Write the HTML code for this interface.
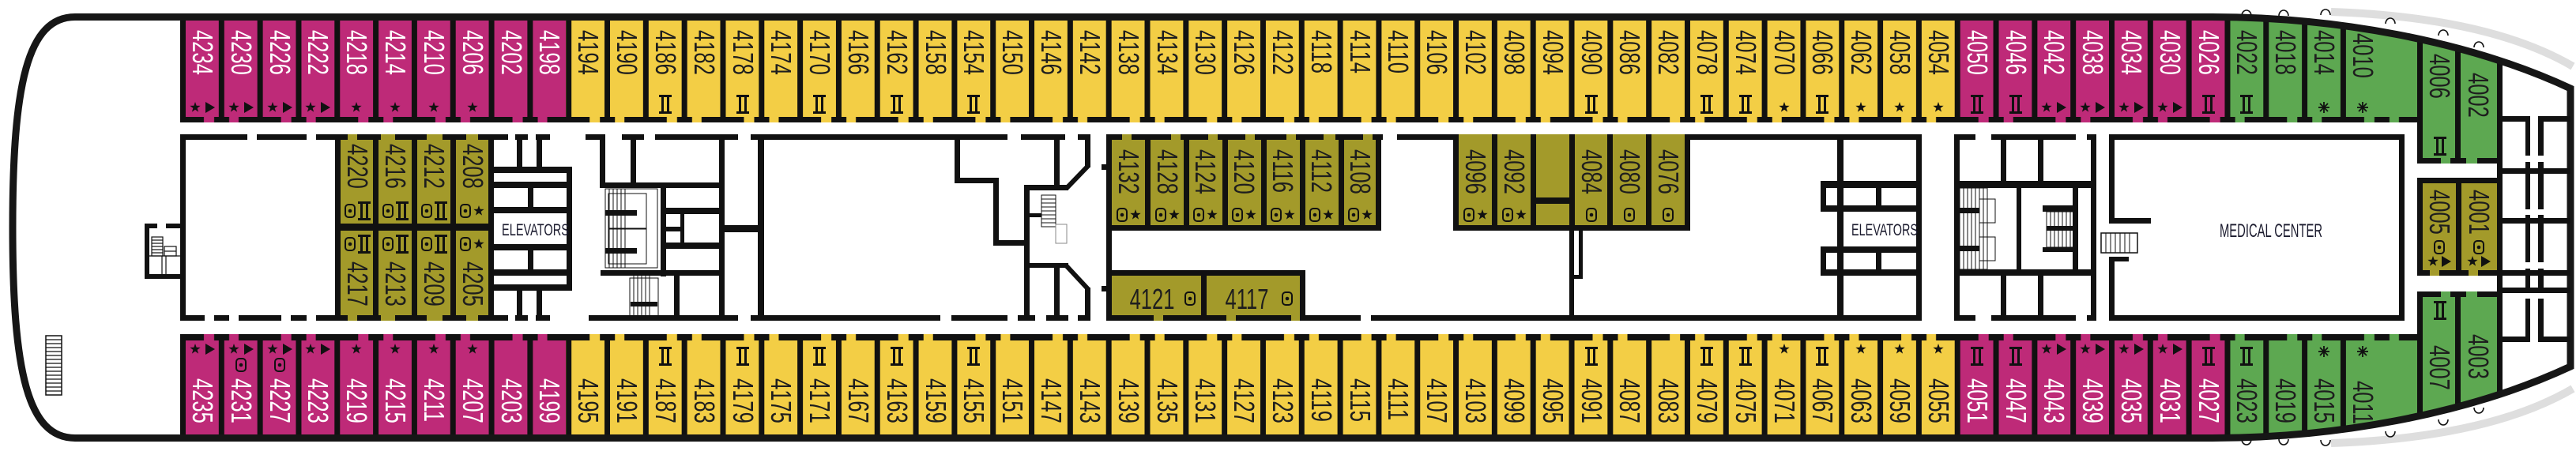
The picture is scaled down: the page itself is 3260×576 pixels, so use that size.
<!DOCTYPE html>
<html><head><meta charset="utf-8"><style>
html,body{margin:0;padding:0;background:#fff}
svg{display:block}
.n{font-family:"Liberation Sans",sans-serif;font-size:36px;dominant-baseline:central}
.w{fill:#fff}.d{fill:#1e1e1e}
.lab{font-family:"Liberation Sans",sans-serif;fill:#1b1b2e}
</style></head><body>
<svg width="3260" height="576" viewBox="0 0 3260 576" xmlns="http://www.w3.org/2000/svg">
<defs>
<clipPath id="hc"><path d="M95,21.5 L2800,21.5 C2950,21.5 3120,50 3253,112 L3253,464 C3120,526 2950,554.5 2800,554.5 L95,554.5 C35,554.5 16,470 16,288 C16,106 35,21.5 95,21.5 Z"/></clipPath>
<pattern id="vw" x="228" y="0" width="48.82" height="576" patternUnits="userSpaceOnUse"><rect width="7" height="576" fill="#111"/></pattern>
<pattern id="dw" x="228" y="0" width="97.64" height="576" patternUnits="userSpaceOnUse"><rect x="0" width="30" height="576" fill="#111"/><rect x="43" width="19" height="576" fill="#111"/><rect x="74" width="23.64" height="576" fill="#111"/></pattern>
<g id="st"><polygon points="0,-7 1.65,-2.27 6.66,-2.16 2.66,0.87 4.11,5.66 0,2.8 -4.11,5.66 -2.66,0.87 -6.66,-2.16 -1.65,-2.27" fill="#111"/></g>
<g id="tr"><polygon points="-5,-7 7,0 -5,7" fill="#111"/></g>
<g id="ii" fill="#111"><rect x="-8" y="-12" width="16" height="3"/><rect x="-8" y="9" width="16" height="3"/><rect x="-5" y="-12" width="3" height="24"/><rect x="2" y="-12" width="3" height="24"/></g>
<g id="dt"><rect x="-6" y="-8" width="12" height="16" rx="4" fill="none" stroke="#111" stroke-width="2"/><circle r="2.3" fill="#111"/></g>
<g id="as" stroke="#111" stroke-width="1.8"><line x1="0" y1="-7" x2="0" y2="7"/><line x1="-7" y1="0" x2="7" y2="0"/><line x1="-5" y1="-5" x2="5" y2="5"/><line x1="-5" y1="5" x2="5" y2="-5"/></g>
</defs>

<!-- grey rails -->
<path d="M2950,15 Q3150,22 3256,84" fill="none" stroke="#dedede" stroke-width="10"/>
<path d="M2950,561 Q3150,554 3256,492" fill="none" stroke="#dedede" stroke-width="10"/>
<!-- bumps -->
<g fill="#fff" stroke="#111" stroke-width="1.6">
<path d="M2837,20 a6,7 0 0 1 12,0"/><path d="M2884,20 a6,7 0 0 1 12,0"/><path d="M2937,19 a6,7 0 0 1 12,0"/><path d="M3019,30 a6,7 0 0 1 12,0"/><path d="M3086,45 a6,7 0 0 1 12,0"/><path d="M3131,60 a6,7 0 0 1 12,0"/>
<path d="M2837,556 a6,7 0 0 0 12,0"/><path d="M2884,556 a6,7 0 0 0 12,0"/><path d="M2937,557 a6,7 0 0 0 12,0"/><path d="M3019,546 a6,7 0 0 0 12,0"/><path d="M3086,531 a6,7 0 0 0 12,0"/><path d="M3131,516 a6,7 0 0 0 12,0"/>
</g>

<g clip-path="url(#hc)">
<!-- top row colors -->
<rect x="228" y="20" width="488" height="135" fill="#BE2A78"/>
<rect x="716" y="20" width="1758" height="135" fill="#F3CE45"/>
<rect x="2474" y="20" width="342" height="135" fill="#BE2A78"/>
<rect x="2816" y="20" width="350" height="135" fill="#5DA851"/>
<rect x="3059" y="20" width="107" height="187" fill="#5DA851"/>
<!-- bottom row colors -->
<rect x="228" y="423" width="488" height="135" fill="#BE2A78"/>
<rect x="716" y="423" width="1758" height="135" fill="#F3CE45"/>
<rect x="2474" y="423" width="342" height="135" fill="#BE2A78"/>
<rect x="2816" y="423" width="350" height="135" fill="#5DA851"/>
<rect x="3059" y="369" width="107" height="190" fill="#5DA851"/>
<!-- walls -->
<rect x="228" y="20" width="2741" height="135" fill="url(#vw)"/>
<rect x="228" y="148" width="2831" height="7" fill="url(#dw)"/>
<rect x="228" y="423" width="2741" height="135" fill="url(#vw)"/>
<rect x="228" y="423" width="2831" height="8" fill="url(#dw)"/>
<rect x="3059" y="20" width="7" height="187" fill="#111"/>
<rect x="3107" y="20" width="7" height="187" fill="#111"/>
<rect x="3160" y="20" width="7" height="187" fill="#111"/>
<rect x="3059" y="200" width="30" height="7" fill="#111"/><rect x="3101" y="200" width="20" height="7" fill="#111"/><rect x="3135" y="200" width="32" height="7" fill="#111"/>
<rect x="3059" y="369" width="7" height="190" fill="#111"/>
<rect x="3107" y="369" width="7" height="190" fill="#111"/>
<rect x="3160" y="369" width="7" height="190" fill="#111"/>
<rect x="3059" y="369" width="30" height="7" fill="#111"/><rect x="3101" y="369" width="20" height="7" fill="#111"/><rect x="3135" y="369" width="32" height="7" fill="#111"/>
</g>

<!-- hull -->
<path d="M95,21.5 L2800,21.5 C2950,21.5 3120,50 3253,112 L3253,464 C3120,526 2950,554.5 2800,554.5 L95,554.5 C35,554.5 16,470 16,288 C16,106 35,21.5 95,21.5 Z" fill="none" stroke="#161616" stroke-width="9"/>

<!-- top labels -->
<g class="n w">
<text transform="translate(256,38) rotate(90) scale(0.71,1)">4234</text>
<text transform="translate(305,38) rotate(90) scale(0.71,1)">4230</text>
<text transform="translate(354,38) rotate(90) scale(0.71,1)">4226</text>
<text transform="translate(402,38) rotate(90) scale(0.71,1)">4222</text>
<text transform="translate(451,38) rotate(90) scale(0.71,1)">4218</text>
<text transform="translate(500,38) rotate(90) scale(0.71,1)">4214</text>
<text transform="translate(549,38) rotate(90) scale(0.71,1)">4210</text>
<text transform="translate(598,38) rotate(90) scale(0.71,1)">4206</text>
<text transform="translate(647,38) rotate(90) scale(0.71,1)">4202</text>
<text transform="translate(695,38) rotate(90) scale(0.71,1)">4198</text>
<text transform="translate(2502,38) rotate(90) scale(0.71,1)">4050</text>
<text transform="translate(2551,38) rotate(90) scale(0.71,1)">4046</text>
<text transform="translate(2599,38) rotate(90) scale(0.71,1)">4042</text>
<text transform="translate(2648,38) rotate(90) scale(0.71,1)">4038</text>
<text transform="translate(2697,38) rotate(90) scale(0.71,1)">4034</text>
<text transform="translate(2746,38) rotate(90) scale(0.71,1)">4030</text>
<text transform="translate(2795,38) rotate(90) scale(0.71,1)">4026</text>
</g>
<g class="n d">
<text transform="translate(744,38) rotate(90) scale(0.71,1)">4194</text>
<text transform="translate(793,38) rotate(90) scale(0.71,1)">4190</text>
<text transform="translate(842,38) rotate(90) scale(0.71,1)">4186</text>
<text transform="translate(891,38) rotate(90) scale(0.71,1)">4182</text>
<text transform="translate(940,38) rotate(90) scale(0.71,1)">4178</text>
<text transform="translate(988,38) rotate(90) scale(0.71,1)">4174</text>
<text transform="translate(1037,38) rotate(90) scale(0.71,1)">4170</text>
<text transform="translate(1086,38) rotate(90) scale(0.71,1)">4166</text>
<text transform="translate(1135,38) rotate(90) scale(0.71,1)">4162</text>
<text transform="translate(1184,38) rotate(90) scale(0.71,1)">4158</text>
<text transform="translate(1232,38) rotate(90) scale(0.71,1)">4154</text>
<text transform="translate(1281,38) rotate(90) scale(0.71,1)">4150</text>
<text transform="translate(1330,38) rotate(90) scale(0.71,1)">4146</text>
<text transform="translate(1379,38) rotate(90) scale(0.71,1)">4142</text>
<text transform="translate(1428,38) rotate(90) scale(0.71,1)">4138</text>
<text transform="translate(1477,38) rotate(90) scale(0.71,1)">4134</text>
<text transform="translate(1525,38) rotate(90) scale(0.71,1)">4130</text>
<text transform="translate(1574,38) rotate(90) scale(0.71,1)">4126</text>
<text transform="translate(1623,38) rotate(90) scale(0.71,1)">4122</text>
<text transform="translate(1672,38) rotate(90) scale(0.71,1)">4118</text>
<text transform="translate(1721,38) rotate(90) scale(0.71,1)">4114</text>
<text transform="translate(1769,38) rotate(90) scale(0.71,1)">4110</text>
<text transform="translate(1818,38) rotate(90) scale(0.71,1)">4106</text>
<text transform="translate(1867,38) rotate(90) scale(0.71,1)">4102</text>
<text transform="translate(1916,38) rotate(90) scale(0.71,1)">4098</text>
<text transform="translate(1965,38) rotate(90) scale(0.71,1)">4094</text>
<text transform="translate(2014,38) rotate(90) scale(0.71,1)">4090</text>
<text transform="translate(2062,38) rotate(90) scale(0.71,1)">4086</text>
<text transform="translate(2111,38) rotate(90) scale(0.71,1)">4082</text>
<text transform="translate(2160,38) rotate(90) scale(0.71,1)">4078</text>
<text transform="translate(2209,38) rotate(90) scale(0.71,1)">4074</text>
<text transform="translate(2258,38) rotate(90) scale(0.71,1)">4070</text>
<text transform="translate(2306,38) rotate(90) scale(0.71,1)">4066</text>
<text transform="translate(2355,38) rotate(90) scale(0.71,1)">4062</text>
<text transform="translate(2404,38) rotate(90) scale(0.71,1)">4058</text>
<text transform="translate(2453,38) rotate(90) scale(0.71,1)">4054</text>
<text transform="translate(2843,38) rotate(90) scale(0.71,1)">4022</text>
<text transform="translate(2892,38) rotate(90) scale(0.71,1)">4018</text>
<text transform="translate(2941,38) rotate(90) scale(0.71,1)">4014</text>
<text transform="translate(2990,42) rotate(90) scale(0.71,1)">4010</text>
<text transform="translate(3087,68) rotate(90) scale(0.71,1)">4006</text>
<text transform="translate(3136,92) rotate(90) scale(0.71,1)">4002</text>
</g>

<!-- bottom labels -->
<g class="n w">
<text transform="translate(256,479) rotate(90) scale(0.71,1)">4235</text>
<text transform="translate(305,479) rotate(90) scale(0.71,1)">4231</text>
<text transform="translate(354,479) rotate(90) scale(0.71,1)">4227</text>
<text transform="translate(402,479) rotate(90) scale(0.71,1)">4223</text>
<text transform="translate(451,479) rotate(90) scale(0.71,1)">4219</text>
<text transform="translate(500,479) rotate(90) scale(0.71,1)">4215</text>
<text transform="translate(549,479) rotate(90) scale(0.71,1)">4211</text>
<text transform="translate(598,479) rotate(90) scale(0.71,1)">4207</text>
<text transform="translate(647,479) rotate(90) scale(0.71,1)">4203</text>
<text transform="translate(695,479) rotate(90) scale(0.71,1)">4199</text>
<text transform="translate(2502,479) rotate(90) scale(0.71,1)">4051</text>
<text transform="translate(2551,479) rotate(90) scale(0.71,1)">4047</text>
<text transform="translate(2599,479) rotate(90) scale(0.71,1)">4043</text>
<text transform="translate(2648,479) rotate(90) scale(0.71,1)">4039</text>
<text transform="translate(2697,479) rotate(90) scale(0.71,1)">4035</text>
<text transform="translate(2746,479) rotate(90) scale(0.71,1)">4031</text>
<text transform="translate(2795,479) rotate(90) scale(0.71,1)">4027</text>
</g>
<g class="n d">
<text transform="translate(744,479) rotate(90) scale(0.71,1)">4195</text>
<text transform="translate(793,479) rotate(90) scale(0.71,1)">4191</text>
<text transform="translate(842,479) rotate(90) scale(0.71,1)">4187</text>
<text transform="translate(891,479) rotate(90) scale(0.71,1)">4183</text>
<text transform="translate(940,479) rotate(90) scale(0.71,1)">4179</text>
<text transform="translate(988,479) rotate(90) scale(0.71,1)">4175</text>
<text transform="translate(1037,479) rotate(90) scale(0.71,1)">4171</text>
<text transform="translate(1086,479) rotate(90) scale(0.71,1)">4167</text>
<text transform="translate(1135,479) rotate(90) scale(0.71,1)">4163</text>
<text transform="translate(1184,479) rotate(90) scale(0.71,1)">4159</text>
<text transform="translate(1232,479) rotate(90) scale(0.71,1)">4155</text>
<text transform="translate(1281,479) rotate(90) scale(0.71,1)">4151</text>
<text transform="translate(1330,479) rotate(90) scale(0.71,1)">4147</text>
<text transform="translate(1379,479) rotate(90) scale(0.71,1)">4143</text>
<text transform="translate(1428,479) rotate(90) scale(0.71,1)">4139</text>
<text transform="translate(1477,479) rotate(90) scale(0.71,1)">4135</text>
<text transform="translate(1525,479) rotate(90) scale(0.71,1)">4131</text>
<text transform="translate(1574,479) rotate(90) scale(0.71,1)">4127</text>
<text transform="translate(1623,479) rotate(90) scale(0.71,1)">4123</text>
<text transform="translate(1672,479) rotate(90) scale(0.71,1)">4119</text>
<text transform="translate(1721,479) rotate(90) scale(0.71,1)">4115</text>
<text transform="translate(1769,479) rotate(90) scale(0.71,1)">4111</text>
<text transform="translate(1818,479) rotate(90) scale(0.71,1)">4107</text>
<text transform="translate(1867,479) rotate(90) scale(0.71,1)">4103</text>
<text transform="translate(1916,479) rotate(90) scale(0.71,1)">4099</text>
<text transform="translate(1965,479) rotate(90) scale(0.71,1)">4095</text>
<text transform="translate(2014,479) rotate(90) scale(0.71,1)">4091</text>
<text transform="translate(2062,479) rotate(90) scale(0.71,1)">4087</text>
<text transform="translate(2111,479) rotate(90) scale(0.71,1)">4083</text>
<text transform="translate(2160,479) rotate(90) scale(0.71,1)">4079</text>
<text transform="translate(2209,479) rotate(90) scale(0.71,1)">4075</text>
<text transform="translate(2258,479) rotate(90) scale(0.71,1)">4071</text>
<text transform="translate(2306,479) rotate(90) scale(0.71,1)">4067</text>
<text transform="translate(2355,479) rotate(90) scale(0.71,1)">4063</text>
<text transform="translate(2404,479) rotate(90) scale(0.71,1)">4059</text>
<text transform="translate(2453,479) rotate(90) scale(0.71,1)">4055</text>
<text transform="translate(2843,479) rotate(90) scale(0.71,1)">4023</text>
<text transform="translate(2892,479) rotate(90) scale(0.71,1)">4019</text>
<text transform="translate(2941,479) rotate(90) scale(0.71,1)">4015</text>
<text transform="translate(2990,482) rotate(90) scale(0.71,1)">4011</text>
<text transform="translate(3087,437) rotate(90) scale(0.71,1)">4007</text>
<text transform="translate(3136,423) rotate(90) scale(0.71,1)">4003</text>
</g>

<!-- top icons -->
<use href="#st" x="247" y="136"/><use href="#tr" x="265" y="136"/>
<use href="#st" x="296" y="136"/><use href="#tr" x="314" y="136"/>
<use href="#st" x="345" y="136"/><use href="#tr" x="363" y="136"/>
<use href="#st" x="393" y="136"/><use href="#tr" x="411" y="136"/>
<use href="#st" x="451" y="136"/><use href="#st" x="500" y="136"/><use href="#st" x="549" y="136"/><use href="#st" x="598" y="136"/>
<use href="#ii" x="842" y="132"/><use href="#ii" x="940" y="132"/><use href="#ii" x="1037" y="132"/><use href="#ii" x="1135" y="132"/><use href="#ii" x="1232" y="132"/>
<use href="#ii" x="2014" y="132"/><use href="#ii" x="2160" y="132"/><use href="#ii" x="2209" y="132"/><use href="#ii" x="2306" y="132"/><use href="#ii" x="2502" y="132"/><use href="#ii" x="2551" y="132"/><use href="#ii" x="2795" y="132"/><use href="#ii" x="2843" y="132"/>
<use href="#st" x="2258" y="136"/><use href="#st" x="2355" y="136"/><use href="#st" x="2404" y="136"/><use href="#st" x="2453" y="136"/>
<use href="#st" x="2590" y="136"/><use href="#tr" x="2608" y="136"/>
<use href="#st" x="2639" y="136"/><use href="#tr" x="2657" y="136"/>
<use href="#st" x="2688" y="136"/><use href="#tr" x="2706" y="136"/>
<use href="#st" x="2737" y="136"/><use href="#tr" x="2755" y="136"/>
<use href="#as" x="2941" y="136"/><use href="#as" x="2990" y="136"/>
<use href="#ii" x="3088" y="185"/>
<!-- bottom icons -->
<use href="#st" x="247" y="442"/><use href="#tr" x="265" y="442"/>
<use href="#st" x="296" y="442"/><use href="#tr" x="314" y="442"/><use href="#dt" x="305" y="462"/>
<use href="#st" x="345" y="442"/><use href="#tr" x="363" y="442"/><use href="#dt" x="354" y="462"/>
<use href="#st" x="393" y="442"/><use href="#tr" x="411" y="442"/>
<use href="#st" x="451" y="442"/><use href="#st" x="500" y="442"/><use href="#st" x="549" y="442"/><use href="#st" x="598" y="442"/>
<use href="#ii" x="842" y="451"/><use href="#ii" x="940" y="451"/><use href="#ii" x="1037" y="451"/><use href="#ii" x="1135" y="451"/><use href="#ii" x="1232" y="451"/>
<use href="#ii" x="2014" y="451"/><use href="#ii" x="2160" y="451"/><use href="#ii" x="2209" y="451"/><use href="#ii" x="2306" y="451"/><use href="#ii" x="2502" y="451"/><use href="#ii" x="2551" y="451"/><use href="#ii" x="2795" y="451"/><use href="#ii" x="2843" y="451"/>
<use href="#st" x="2258" y="442"/><use href="#st" x="2355" y="442"/><use href="#st" x="2404" y="442"/><use href="#st" x="2453" y="442"/>
<use href="#st" x="2590" y="442"/><use href="#tr" x="2608" y="442"/>
<use href="#st" x="2639" y="442"/><use href="#tr" x="2657" y="442"/>
<use href="#st" x="2688" y="442"/><use href="#tr" x="2706" y="442"/>
<use href="#st" x="2737" y="442"/><use href="#tr" x="2755" y="442"/>
<use href="#as" x="2941" y="445"/><use href="#as" x="2990" y="445"/>
<use href="#ii" x="3088" y="393"/>

<!-- ===== middle block ===== -->
<g fill="#111">
<!-- stern small stair -->
<rect x="183" y="283" width="6" height="70"/><rect x="183" y="283" width="16" height="6"/><rect x="183" y="347" width="46" height="6"/><rect x="210" y="283" width="19" height="6"/>
</g>
<g fill="none" stroke="#111" stroke-width="1.2">
<rect x="192" y="300" width="14" height="24"/><line x1="192" y1="304" x2="206" y2="304"/><line x1="192" y1="308" x2="206" y2="308"/><line x1="192" y1="312" x2="206" y2="312"/><line x1="192" y1="316" x2="206" y2="316"/><line x1="192" y1="320" x2="206" y2="320"/>
<rect x="208" y="312" width="15" height="12"/><line x1="208" y1="318" x2="223" y2="318"/>
<line x1="189" y1="324" x2="229" y2="324"/><line x1="205" y1="324" x2="205" y2="347"/><line x1="210" y1="324" x2="210" y2="347"/>
<!-- gangway -->
<rect x="58" y="425" width="20" height="75" stroke-width="1.5"/>
</g>
<g stroke="#111" stroke-width="1.2">
<line x1="58" y1="430" x2="78" y2="430"/><line x1="58" y1="435" x2="78" y2="435"/><line x1="58" y1="440" x2="78" y2="440"/><line x1="58" y1="445" x2="78" y2="445"/><line x1="58" y1="450" x2="78" y2="450"/><line x1="58" y1="455" x2="78" y2="455"/><line x1="58" y1="460" x2="78" y2="460"/><line x1="58" y1="465" x2="78" y2="465"/><line x1="58" y1="470" x2="78" y2="470"/><line x1="58" y1="475" x2="78" y2="475"/><line x1="58" y1="480" x2="78" y2="480"/><line x1="58" y1="485" x2="78" y2="485"/><line x1="58" y1="490" x2="78" y2="490"/><line x1="58" y1="495" x2="78" y2="495"/>
</g>

<!-- olive left block -->
<rect x="424" y="170" width="194" height="236" fill="#A39A2A"/>
<g fill="#111">
<!-- room A -->
<rect x="228" y="170" width="7" height="236"/>
<rect x="228" y="170" width="85" height="7"/><rect x="325" y="170" width="63" height="7"/><rect x="400" y="170" width="40" height="7"/>
<rect x="228" y="399" width="31" height="7"/><rect x="271" y="399" width="19" height="7"/><rect x="302" y="399" width="54" height="7"/><rect x="368" y="399" width="20" height="7"/><rect x="400" y="399" width="40" height="7"/>
<!-- olive cabins walls -->
<rect x="424" y="170" width="7" height="236"/><rect x="472" y="170" width="7" height="236"/><rect x="521" y="170" width="7" height="236"/><rect x="570" y="170" width="7" height="236"/><rect x="618" y="170" width="7" height="236"/>
<rect x="452" y="170" width="30" height="7"/><rect x="500" y="170" width="40" height="7"/><rect x="560" y="170" width="30" height="7"/><rect x="605" y="170" width="20" height="7"/>
<rect x="452" y="399" width="30" height="7"/><rect x="500" y="399" width="40" height="7"/><rect x="560" y="399" width="30" height="7"/><rect x="605" y="399" width="20" height="7"/>
<rect x="424" y="283" width="201" height="9"/>
<!-- elevators 1 -->
<rect x="625" y="170" width="18" height="7"/><rect x="652" y="170" width="16" height="7"/><rect x="678" y="170" width="18" height="7"/>
<rect x="654" y="170" width="7" height="44"/><rect x="679" y="170" width="7" height="44"/>
<rect x="618" y="211" width="106" height="8"/><rect x="618" y="230" width="106" height="8"/><rect x="618" y="262" width="106" height="8"/>
<rect x="668" y="238" width="7" height="26"/><rect x="717" y="211" width="7" height="157"/>
<rect x="618" y="309" width="106" height="8"/><rect x="618" y="341" width="106" height="8"/><rect x="618" y="360" width="106" height="8"/>
<rect x="668" y="317" width="7" height="26"/>
<rect x="654" y="366" width="7" height="40"/><rect x="679" y="366" width="7" height="40"/>
<rect x="625" y="399" width="18" height="7"/><rect x="652" y="399" width="16" height="7"/><rect x="678" y="399" width="18" height="7"/>
<!-- stairs 1 -->
<rect x="741" y="170" width="24" height="7"/><rect x="787" y="170" width="28" height="7"/><rect x="829" y="170" width="105" height="7"/>
<rect x="759" y="170" width="7" height="68"/><rect x="798" y="170" width="7" height="62"/><rect x="910" y="170" width="7" height="236"/>
<rect x="759" y="231" width="158" height="7"/>
<rect x="836" y="238" width="7" height="112"/><rect x="861" y="265" width="5" height="50"/>
<rect x="843" y="263" width="74" height="8"/><rect x="843" y="307" width="74" height="8"/><rect x="843" y="287" width="23" height="6"/>
<rect x="760" y="342" width="157" height="7"/>
<rect x="766" y="266" width="40" height="7"/><rect x="766" y="314" width="40" height="7"/><rect x="798" y="382" width="34" height="6"/>
<rect x="853" y="349" width="7" height="57"/>
<rect x="745" y="399" width="189" height="7"/>
<rect x="910" y="285" width="52" height="9"/>
<!-- big room 1 -->
<rect x="959" y="170" width="8" height="236"/>
<rect x="950" y="170" width="325" height="7"/>
<rect x="950" y="399" width="240" height="7"/><rect x="1204" y="399" width="71" height="7"/><rect x="1288" y="399" width="22" height="7"/><rect x="1324" y="399" width="28" height="7"/><rect x="1364" y="399" width="16" height="7"/>
<rect x="1208" y="170" width="7" height="62"/><rect x="1208" y="225" width="56" height="7"/><rect x="1257" y="225" width="7" height="86"/><rect x="1257" y="304" width="45" height="7"/>
<rect x="1296" y="236" width="7" height="170"/><rect x="1334" y="170" width="7" height="68"/><rect x="1334" y="338" width="7" height="68"/>
<rect x="1292" y="170" width="56" height="7"/><rect x="1364" y="170" width="16" height="7"/>
<rect x="1296" y="234" width="56" height="7"/><rect x="1296" y="333" width="56" height="6"/><rect x="1296" y="270" width="22" height="5"/>
<rect x="1373" y="170" width="7" height="42"/><rect x="1373" y="364" width="7" height="42"/>
<rect x="1394" y="208" width="7" height="7"/><rect x="1394" y="362" width="7" height="7"/>
</g>
<g stroke="#111" stroke-width="6"><line x1="1350" y1="238" x2="1377" y2="210"/><line x1="1350" y1="337" x2="1377" y2="366"/></g>
<g fill="none" stroke="#111" stroke-width="1">
<rect x="766" y="239" width="66" height="100"/><rect x="770" y="245" width="48" height="44"/><rect x="770" y="290" width="48" height="44"/>
<line x1="771" y1="239" x2="771" y2="339"/><line x1="776" y1="239" x2="776" y2="339"/><line x1="781" y1="239" x2="781" y2="339"/><line x1="786" y1="239" x2="786" y2="339"/><line x1="791" y1="239" x2="791" y2="339"/>
<rect x="797" y="352" width="36" height="48"/><line x1="802" y1="349" x2="802" y2="404"/><line x1="807" y1="349" x2="807" y2="404"/><line x1="812" y1="349" x2="812" y2="404"/><line x1="817" y1="349" x2="817" y2="404"/><line x1="822" y1="349" x2="822" y2="404"/>
<rect x="1318" y="247" width="18" height="40"/><line x1="1318" y1="252" x2="1336" y2="252"/><line x1="1318" y1="257" x2="1336" y2="257"/><line x1="1318" y1="262" x2="1336" y2="262"/><line x1="1318" y1="267" x2="1336" y2="267"/><line x1="1318" y1="272" x2="1336" y2="272"/><line x1="1318" y1="277" x2="1336" y2="277"/><line x1="1318" y1="282" x2="1336" y2="282"/>
<rect x="1336" y="284" width="14" height="24" stroke="#888"/>
</g>

<!-- olive 4132-4108 -->
<rect x="1400" y="170" width="348" height="122" fill="#A39A2A"/>
<rect x="1400" y="342" width="252" height="64" fill="#A39A2A"/>
<g fill="#111">
<rect x="1400" y="170" width="7" height="236"/>
<rect x="1449" y="170" width="7" height="122"/><rect x="1498" y="170" width="7" height="122"/><rect x="1547" y="170" width="7" height="122"/><rect x="1596" y="170" width="7" height="122"/><rect x="1645" y="170" width="7" height="122"/><rect x="1694" y="170" width="7" height="122"/><rect x="1741" y="170" width="7" height="122"/>
<rect x="1400" y="170" width="20" height="7"/><rect x="1432" y="170" width="50" height="7"/><rect x="1494" y="170" width="35" height="7"/><rect x="1541" y="170" width="35" height="7"/><rect x="1588" y="170" width="40" height="7"/><rect x="1640" y="170" width="35" height="7"/><rect x="1690" y="170" width="35" height="7"/><rect x="1737" y="170" width="13" height="7"/>
<rect x="1400" y="285" width="348" height="7"/>
<rect x="1400" y="342" width="252" height="7"/><rect x="1520" y="342" width="7" height="64"/><rect x="1645" y="342" width="7" height="64"/>
<rect x="1400" y="399" width="60" height="7"/><rect x="1472" y="399" width="80" height="7"/><rect x="1564" y="399" width="70" height="7"/>
<rect x="1646" y="399" width="76" height="7"/><rect x="1735" y="399" width="697" height="7"/>
<rect x="1768" y="170" width="664" height="7"/>
<!-- olive 4096 group -->
</g>
<rect x="1839" y="170" width="300" height="122" fill="#A39A2A"/>
<g fill="#111">
<rect x="1839" y="170" width="7" height="122"/><rect x="1888" y="170" width="7" height="122"/><rect x="1937" y="170" width="7" height="122"/><rect x="1986" y="170" width="7" height="122"/><rect x="2034" y="170" width="7" height="122"/><rect x="2083" y="170" width="7" height="122"/><rect x="2132" y="170" width="7" height="122"/>
<rect x="1839" y="285" width="300" height="7"/><rect x="1944" y="250" width="42" height="8"/>
<rect x="1986" y="292" width="6" height="114"/><rect x="1998" y="292" width="5" height="61"/><rect x="1986" y="348" width="17" height="5"/>
<!-- elevators 2 -->
<rect x="2325" y="170" width="8" height="236"/><rect x="2425" y="170" width="7" height="236"/>
<rect x="2304" y="229" width="128" height="9"/><rect x="2304" y="260" width="128" height="8"/><rect x="2304" y="229" width="7" height="39"/><rect x="2374" y="229" width="7" height="39"/>
<rect x="2304" y="312" width="128" height="8"/><rect x="2304" y="341" width="128" height="8"/><rect x="2304" y="312" width="7" height="37"/><rect x="2374" y="312" width="7" height="37"/>
<!-- stairs 2 -->
<rect x="2473" y="170" width="27" height="7"/><rect x="2520" y="170" width="107" height="7"/><rect x="2641" y="170" width="12" height="7"/>
<rect x="2473" y="399" width="27" height="7"/><rect x="2520" y="399" width="107" height="7"/><rect x="2641" y="399" width="12" height="7"/>
<rect x="2473" y="170" width="7" height="236"/><rect x="2646" y="170" width="7" height="236"/>
<rect x="2532" y="170" width="7" height="62"/><rect x="2579" y="170" width="7" height="62"/>
<rect x="2532" y="345" width="7" height="61"/><rect x="2579" y="345" width="7" height="61"/>
<rect x="2473" y="229" width="180" height="9"/><rect x="2473" y="341" width="180" height="8"/>
<rect x="2552" y="238" width="6" height="103"/><rect x="2623" y="238" width="7" height="103"/>
<rect x="2585" y="260" width="45" height="8"/><rect x="2585" y="313" width="45" height="6"/>
<rect x="2480" y="263" width="25" height="7"/><rect x="2480" y="311" width="25" height="7"/><rect x="2590" y="286" width="33" height="6"/>
<!-- medical -->
<rect x="2669" y="170" width="374" height="7"/><rect x="2669" y="399" width="374" height="7"/><rect x="3036" y="170" width="7" height="236"/>
<rect x="2669" y="170" width="7" height="113"/><rect x="2669" y="276" width="53" height="7"/><rect x="2669" y="325" width="7" height="81"/><rect x="2669" y="325" width="25" height="6"/>
<!-- 4005/4001 block -->
<rect x="3059" y="225" width="108" height="124"/>
</g>
<rect x="3066" y="232" width="42" height="110" fill="#A39A2A"/><rect x="3115" y="232" width="45" height="110" fill="#A39A2A"/>
<rect x="3075" y="342" width="12" height="7" fill="#A39A2A"/><rect x="3124" y="342" width="12" height="7" fill="#A39A2A"/>
<g fill="none" stroke="#111" stroke-width="1">
<rect x="2480" y="238" width="35" height="103"/><line x1="2485" y1="238" x2="2485" y2="341"/><line x1="2490" y1="238" x2="2490" y2="341"/><line x1="2495" y1="238" x2="2495" y2="341"/><line x1="2500" y1="238" x2="2500" y2="341"/><line x1="2505" y1="238" x2="2505" y2="341"/><line x1="2510" y1="238" x2="2510" y2="341"/>
<rect x="2505" y="252" width="20" height="30"/><rect x="2505" y="300" width="20" height="30"/>
<rect x="2590" y="268" width="35" height="45"/><line x1="2595" y1="268" x2="2595" y2="313"/><line x1="2600" y1="268" x2="2600" y2="313"/><line x1="2605" y1="268" x2="2605" y2="313"/><line x1="2610" y1="268" x2="2610" y2="313"/><line x1="2615" y1="268" x2="2615" y2="313"/><line x1="2620" y1="268" x2="2620" y2="313"/>
<rect x="2659" y="295" width="46" height="25" stroke-width="1.5"/><line x1="2665" y1="295" x2="2665" y2="320"/><line x1="2671" y1="295" x2="2671" y2="320"/><line x1="2677" y1="295" x2="2677" y2="320"/><line x1="2683" y1="295" x2="2683" y2="320"/><line x1="2689" y1="295" x2="2689" y2="320"/><line x1="2695" y1="295" x2="2695" y2="320"/>
</g>
<!-- bow end structures -->
<g fill="#111">
<rect x="3160" y="147" width="42" height="7"/><rect x="3212" y="147" width="41" height="7"/>
<rect x="3196" y="147" width="6" height="50"/><rect x="3212" y="147" width="7" height="50"/>
<rect x="3160" y="213" width="93" height="7"/>
<rect x="3196" y="205" width="6" height="60"/><rect x="3212" y="205" width="7" height="60"/>
<rect x="3160" y="276" width="93" height="7"/>
<rect x="3196" y="272" width="6" height="60"/><rect x="3212" y="272" width="7" height="60"/>
<rect x="3160" y="342" width="93" height="7"/>
<rect x="3160" y="364" width="93" height="7"/>
<rect x="3196" y="340" width="6" height="30"/><rect x="3212" y="340" width="7" height="30"/>
<rect x="3196" y="378" width="6" height="55"/><rect x="3212" y="378" width="7" height="55"/>
<rect x="3160" y="426" width="42" height="7"/><rect x="3212" y="426" width="41" height="7"/>
<rect x="3160" y="207" width="7" height="162"/>
</g>

<!-- inner labels -->
<g class="n d">
<text transform="translate(452,182) rotate(90) scale(0.71,1)">4220</text>
<text transform="translate(500,182) rotate(90) scale(0.71,1)">4216</text>
<text transform="translate(549,182) rotate(90) scale(0.71,1)">4212</text>
<text transform="translate(598,182) rotate(90) scale(0.71,1)">4208</text>
<text transform="translate(452,331) rotate(90) scale(0.71,1)">4217</text>
<text transform="translate(500,331) rotate(90) scale(0.71,1)">4213</text>
<text transform="translate(549,331) rotate(90) scale(0.71,1)">4209</text>
<text transform="translate(598,331) rotate(90) scale(0.71,1)">4205</text>
<text transform="translate(1428,189) rotate(90) scale(0.71,1)">4132</text>
<text transform="translate(1477,189) rotate(90) scale(0.71,1)">4128</text>
<text transform="translate(1525,189) rotate(90) scale(0.71,1)">4124</text>
<text transform="translate(1574,189) rotate(90) scale(0.71,1)">4120</text>
<text transform="translate(1623,189) rotate(90) scale(0.71,1)">4116</text>
<text transform="translate(1672,189) rotate(90) scale(0.71,1)">4112</text>
<text transform="translate(1721,189) rotate(90) scale(0.71,1)">4108</text>
<text transform="translate(1867,189) rotate(90) scale(0.71,1)">4096</text>
<text transform="translate(1916,189) rotate(90) scale(0.71,1)">4092</text>
<text transform="translate(2014,189) rotate(90) scale(0.71,1)">4084</text>
<text transform="translate(2062,189) rotate(90) scale(0.71,1)">4080</text>
<text transform="translate(2111,189) rotate(90) scale(0.71,1)">4076</text>
<text transform="translate(3087,240) rotate(90) scale(0.71,1)">4005</text>
<text transform="translate(3137,240) rotate(90) scale(0.71,1)">4001</text>
</g>
<g font-family="'Liberation Sans',sans-serif" font-size="36" fill="#1e1e1e" text-anchor="middle">
<text transform="translate(1458,391) scale(0.71,1)">4121</text>
<text transform="translate(1578,391) scale(0.71,1)">4117</text>
</g>
<!-- inner icons -->
<use href="#dt" x="443" y="267"/><use href="#ii" x="461" y="267"/>
<use href="#dt" x="491" y="267"/><use href="#ii" x="509" y="267"/>
<use href="#dt" x="540" y="267"/><use href="#ii" x="558" y="267"/>
<use href="#dt" x="589" y="267"/><use href="#st" x="606" y="267"/>
<use href="#dt" x="443" y="309"/><use href="#ii" x="461" y="309"/>
<use href="#dt" x="491" y="309"/><use href="#ii" x="509" y="309"/>
<use href="#dt" x="540" y="309"/><use href="#ii" x="558" y="309"/>
<use href="#dt" x="589" y="309"/><use href="#st" x="606" y="309"/>
<use href="#dt" x="1420" y="272"/><use href="#st" x="1437" y="272"/>
<use href="#dt" x="1469" y="272"/><use href="#st" x="1486" y="272"/>
<use href="#dt" x="1517" y="272"/><use href="#st" x="1534" y="272"/>
<use href="#dt" x="1566" y="272"/><use href="#st" x="1583" y="272"/>
<use href="#dt" x="1615" y="272"/><use href="#st" x="1632" y="272"/>
<use href="#dt" x="1664" y="272"/><use href="#st" x="1681" y="272"/>
<use href="#dt" x="1713" y="272"/><use href="#st" x="1730" y="272"/>
<use href="#dt" x="1859" y="272"/><use href="#st" x="1876" y="272"/>
<use href="#dt" x="1908" y="272"/><use href="#st" x="1925" y="272"/>
<use href="#dt" x="2014" y="272"/><use href="#dt" x="2062" y="272"/><use href="#dt" x="2111" y="272"/>
<use href="#dt" x="1506" y="378"/><use href="#dt" x="1629" y="378"/>
<use href="#dt" x="3087" y="313"/><use href="#st" x="3079" y="331"/><use href="#tr" x="3095" y="331"/>
<use href="#dt" x="3137" y="313"/><use href="#st" x="3129" y="331"/><use href="#tr" x="3145" y="331"/>

<!-- room labels -->
<text class="lab" x="635" y="298" font-size="21" textLength="85" lengthAdjust="spacingAndGlyphs">ELEVATORS</text>
<text class="lab" x="2343" y="298" font-size="21" textLength="84" lengthAdjust="spacingAndGlyphs">ELEVATORS</text>
<text class="lab" x="2809" y="300" font-size="24" textLength="130" lengthAdjust="spacingAndGlyphs">MEDICAL CENTER</text>
</svg>
</body></html>
